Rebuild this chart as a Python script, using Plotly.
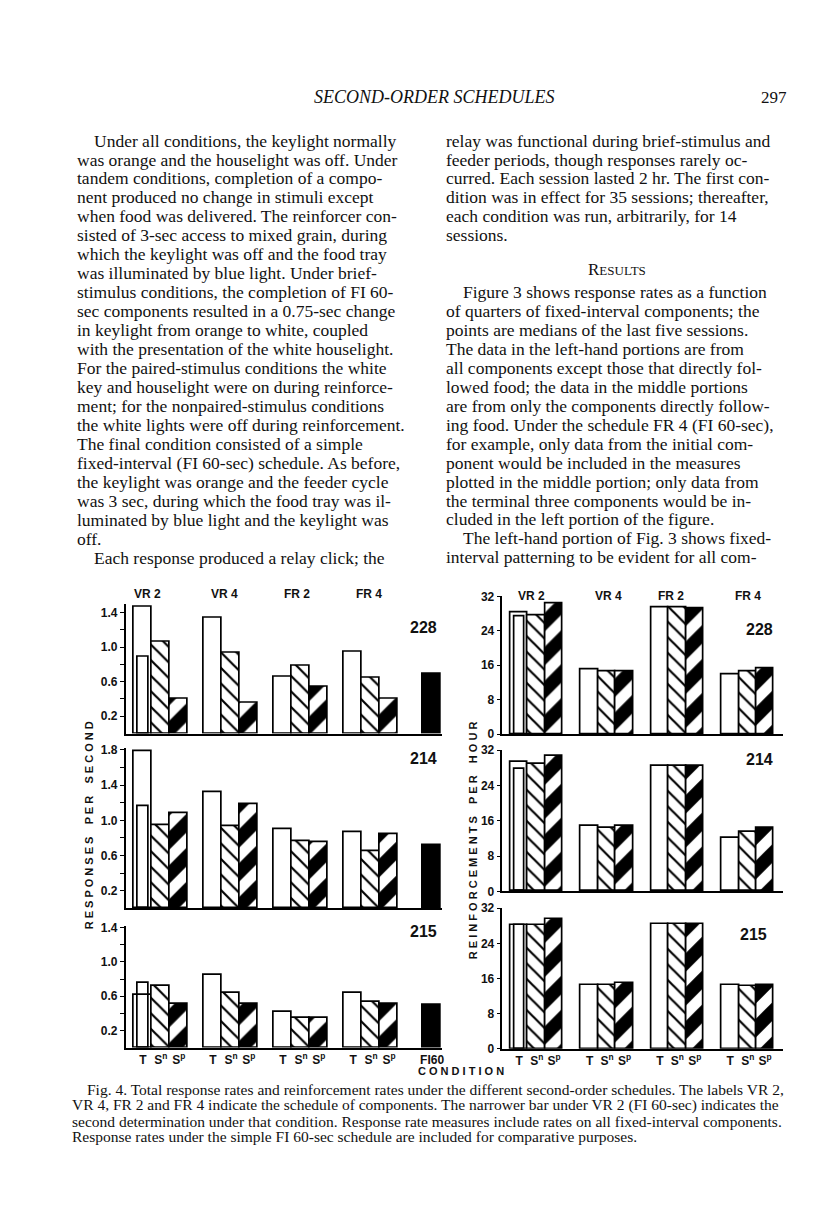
import plotly.graph_objects as go

W, H = 816, 1207

GROUPS = ["VR 2", "VR 4", "FR 2", "FR 4"]
BIRDS = ["228", "214", "215"]
BAR_LABELS = ["T", "S<sup>n</sup>", "S<sup>p</sup>"]

# responses per second (T, S^n, S^p for VR 2, VR 4, FR 2, FR 4)
resp_t = {"228": [1.47, 1.34, 0.66, 0.95], "214": [1.79, 1.32, 0.90, 0.86], "215": [0.61, 0.85, 0.42, 0.64]}
resp_t2 = {"228": 0.89, "214": 1.16, "215": 0.76}  # second determination VR 2
resp_sn = {"228": [1.06, 0.93, 0.78, 0.65], "214": [0.94, 0.93, 0.76, 0.65], "215": [0.72, 0.64, 0.35, 0.53]}
resp_sp = {"228": [0.40, 0.36, 0.54, 0.40], "214": [1.08, 1.18, 0.75, 0.84], "215": [0.51, 0.51, 0.35, 0.51]}
resp_fi60 = {"228": 0.69, "214": 0.72, "215": 0.50}

# reinforcements per hour
reinf_t = {"228": [28.2, 15.1, 29.5, 13.8], "214": [29.2, 14.9, 28.3, 12.1], "215": [28.1, 14.4, 28.3, 14.4]}
reinf_t2 = {"228": 27.4, "214": 27.7, "215": 28.1}
reinf_sn = {"228": [27.6, 14.6, 29.5, 14.5], "214": [28.9, 14.3, 28.3, 13.4], "215": [28.1, 14.4, 28.3, 14.2]}
reinf_sp = {"228": [30.3, 14.6, 29.1, 15.3], "214": [30.6, 14.9, 28.3, 14.3], "215": [29.4, 15.0, 28.3, 14.6]}

left_ticks = [[0.2, 0.6, 1.0, 1.4], [0.2, 0.6, 1.0, 1.4, 1.8], [0.2, 0.6, 1.0, 1.4]]
left_minor = [[0.4, 0.8, 1.2], [0.4, 0.8, 1.2, 1.6], [0.4, 0.8, 1.2]]
right_ticks = [0, 8, 16, 24, 32]

left_col = [
    "Under all conditions, the keylight normally",
    "was orange and the houselight was off. Under",
    "tandem conditions, completion of a compo-",
    "nent produced no change in stimuli except",
    "when food was delivered. The reinforcer con-",
    "sisted of 3-sec access to mixed grain, during",
    "which the keylight was off and the food tray",
    "was illuminated by blue light. Under brief-",
    "stimulus conditions, the completion of FI 60-",
    "sec components resulted in a 0.75-sec change",
    "in keylight from orange to white, coupled",
    "with the presentation of the white houselight.",
    "For the paired-stimulus conditions the white",
    "key and houselight were on during reinforce-",
    "ment; for the nonpaired-stimulus conditions",
    "the white lights were off during reinforcement.",
    "The final condition consisted of a simple",
    "fixed-interval (FI 60-sec) schedule. As before,",
    "the keylight was orange and the feeder cycle",
    "was 3 sec, during which the food tray was il-",
    "luminated by blue light and the keylight was",
    "off.",
    "Each response produced a relay click; the",
]
left_indent = {0, 22}

right_col_a = [
    "relay was functional during brief-stimulus and",
    "feeder periods, though responses rarely oc-",
    "curred. Each session lasted 2 hr. The first con-",
    "dition was in effect for 35 sessions; thereafter,",
    "each condition was run, arbitrarily, for 14",
    "sessions.",
]
right_col_b = [
    "Figure 3 shows response rates as a function",
    "of quarters of fixed-interval components; the",
    "points are medians of the last five sessions.",
    "The data in the left-hand portions are from",
    "all components except those that directly fol-",
    "lowed food; the data in the middle portions",
    "are from only the components directly follow-",
    "ing food. Under the schedule FR 4 (FI 60-sec),",
    "for example, only data from the initial com-",
    "ponent would be included in the measures",
    "plotted in the middle portion; only data from",
    "the terminal three components would be in-",
    "cluded in the left portion of the figure.",
    "The left-hand portion of Fig. 3 shows fixed-",
    "interval patterning to be evident for all com-",
]
right_indent = {0, 13}

caption = [
    "Fig. 4. Total response rates and reinforcement rates under the different second-order schedules. The labels VR 2,",
    "VR 4, FR 2 and FR 4 indicate the schedule of components. The narrower bar under VR 2 (FI 60-sec) indicates the",
    "second determination under that condition. Response rate measures include rates on all fixed-interval components.",
    "Response rates under the simple FI 60-sec schedule are included for comparative purposes.",
]

SERIF = "Liberation Serif, DejaVu Serif, serif"
SANS = "Liberation Sans, Arial, sans-serif"
INK = "#111111"


def px(x):
    return x / W


def py(y):
    return 1 - y / H


# geometry of the six panels (pixels)
LEFT_X = (118, 435)
RIGHT_X = (495.7, 776.7)
LEFT_STEP, RIGHT_STEP = 3.9, 4.03
LEFT_RANGE = [-0.96, 16.65]
RIGHT_RANGE = [-0.96, 15.1]
LEFT_PANELS = [(727, 87.5, 1.5), (903.8, 89.0, 1.82), (1044.7, 86.7, 1.42)]
RIGHT_PANELS = [(727.5, 4.35, 32), (886.7, 4.47, 32), (1046, 4.45, 32)]

bar_line = dict(color="black", width=1.7)
sn_pattern = dict(shape="\\", fgcolor="black", bgcolor="white", size=11, solidity=0.2, fillmode="replace")
sp_pattern = dict(shape="/", fgcolor="black", bgcolor="white", size=24, solidity=0.55, fillmode="replace")

fig = go.Figure()
layout = {}
n = 0
for i, bird in enumerate(BIRDS):
    for side in ("left", "right"):
        n += 1
        xa = "x" if n == 1 else f"x{n}"
        ya = "y" if n == 1 else f"y{n}"
        if side == "left":
            step, xr, xdom_px = LEFT_STEP, LEFT_RANGE, LEFT_X
            base, scale, top = LEFT_PANELS[i]
            t, t2, sn, sp = resp_t[bird], resp_t2[bird], resp_sn[bird], resp_sp[bird]
        else:
            step, xr, xdom_px = RIGHT_STEP, RIGHT_RANGE, RIGHT_X
            base, scale, top = RIGHT_PANELS[i]
            t, t2, sn, sp = reinf_t[bird], reinf_t2[bird], reinf_sn[bird], reinf_sp[bird]

        pos = [g * step for g in range(len(GROUPS))]
        common = dict(xaxis=xa, yaxis=ya, showlegend=False, hoverinfo="skip")

        fig.add_trace(go.Bar(x=[pos[0]], y=[t2], width=[0.6],
                             marker=dict(color="white", line=bar_line), **common))
        fig.add_trace(go.Bar(x=pos, y=t, width=[1] * 4,
                             marker=dict(color="rgba(0,0,0,0)", line=bar_line), **common))
        fig.add_trace(go.Bar(x=[p + 1 for p in pos], y=sn, width=[1] * 4,
                             marker=dict(color="white", line=bar_line, pattern=sn_pattern), **common))
        fig.add_trace(go.Bar(x=[p + 2 for p in pos], y=sp, width=[1] * 4,
                             marker=dict(color="white", line=bar_line, pattern=sp_pattern), **common))

        tickvals = [p + k for p in pos for k in range(3)]
        ticktext = BAR_LABELS * len(GROUPS)
        minor = None
        if side == "left":
            fi_x = len(GROUPS) * step + 0.5
            fig.add_trace(go.Bar(x=[fi_x], y=[resp_fi60[bird]], width=[1],
                                 marker=dict(color="black", line=bar_line), **common))
            tickvals.append(fi_x)
            ticktext.append("FI60")
            yvals = left_ticks[i]
            ytext = [f"{v:.1f}" for v in left_ticks[i]]
            minor = dict(tickvals=left_minor[i], ticks="outside", ticklen=4, tickwidth=1.4,
                         tickcolor="black", showgrid=False)
        else:
            yvals = right_ticks
            ytext = [str(v) for v in right_ticks]

        y_lo, y_hi = base, base - top * scale
        layout["xaxis" if n == 1 else f"xaxis{n}"] = dict(
            domain=[px(xdom_px[0]), px(xdom_px[1])], range=xr, anchor=ya,
            showline=True, linecolor="black", linewidth=1.8, showgrid=False, zeroline=False,
            ticks="", tickvals=tickvals, ticktext=ticktext, showticklabels=(i == 2),
            tickfont=dict(family=SANS, size=12, color=INK, weight="bold"), fixedrange=True,
        )
        yaxis = dict(
            domain=[py(y_lo), py(y_hi)], range=[0, top], anchor=xa,
            showline=True, linecolor="black", linewidth=1.6, showgrid=False, zeroline=False,
            ticks="outside", ticklen=4, tickwidth=1.4, tickcolor="black",
            tickvals=yvals, ticktext=ytext,
            tickfont=dict(family=SANS, size=12, color=INK, weight="bold"), fixedrange=True,
        )
        if minor:
            yaxis["minor"] = minor
        layout["yaxis" if n == 1 else f"yaxis{n}"] = yaxis

annotations = []


def add_text(x, y, text, size, family=SERIF, anchor="left", weight="normal", style="normal", angle=0):
    annotations.append(dict(
        x=px(x), y=py(y), xref="paper", yref="paper", text=text, showarrow=False,
        xanchor=anchor, yanchor="middle", textangle=angle,
        font=dict(family=family, size=size, color=INK, weight=weight, style=style),
    ))


# page header
add_text(428, 83, "SECOND-ORDER SCHEDULES", 18, anchor="center", style="italic")
add_text(783, 83, "297", 17, anchor="right")

# body columns
LINE = 19.2
BODY = 17.5
for k, line in enumerate(left_col):
    add_text(67 + (17 if k in left_indent else 0), 127 + k * LINE, line, BODY)
for k, line in enumerate(right_col_a):
    add_text(437, 127 + k * LINE, line, BODY)
add_text(610, 257, "R<span style='font-size:13px'>ESULTS</span>", 17, anchor="center")
for k, line in enumerate(right_col_b):
    add_text(437 + (17 if k in right_indent else 0), 280 + k * LINE, line, BODY)

# figure labels
for x, g in zip([140, 217, 290, 362], GROUPS):
    add_text(x, 586, g, 12, family=SANS, anchor="center", weight="bold")
for x, g in zip([525, 602, 665, 742], GROUPS):
    add_text(x, 588, g, 12, family=SANS, anchor="center", weight="bold")
for (x, y), b in zip([(417, 620), (417, 752), (417, 927)], BIRDS):
    add_text(x, y, b, 16, family=SANS, anchor="center", weight="bold")
for (x, y), b in zip([(753, 622), (753, 753), (747, 930)], BIRDS):
    add_text(x, y, b, 16, family=SANS, anchor="center", weight="bold")

add_text(82, 820, "R E S P O N S E S    P E R    S E C O N D", 11, family=SANS,
         anchor="center", weight="bold", angle=-90)
add_text(466, 835, "R E I N F O R C E M E N T S    P E R    H O U R", 11, family=SANS,
         anchor="center", weight="bold", angle=-90)
add_text(454, 1068, "C O N D I T I O N", 11, family=SANS, anchor="center", weight="bold")

# caption
for k, line in enumerate(caption):
    add_text(62 + (15 if k == 0 else 0), 1087 + k * 16, line, 15.5)

fig.update_layout(
    width=W, height=H, autosize=False,
    margin=dict(l=0, r=0, t=0, b=0),
    paper_bgcolor="white", plot_bgcolor="white",
    barmode="overlay", bargap=0,
    annotations=annotations,
    **layout,
)

fig.write_html("out.html")
